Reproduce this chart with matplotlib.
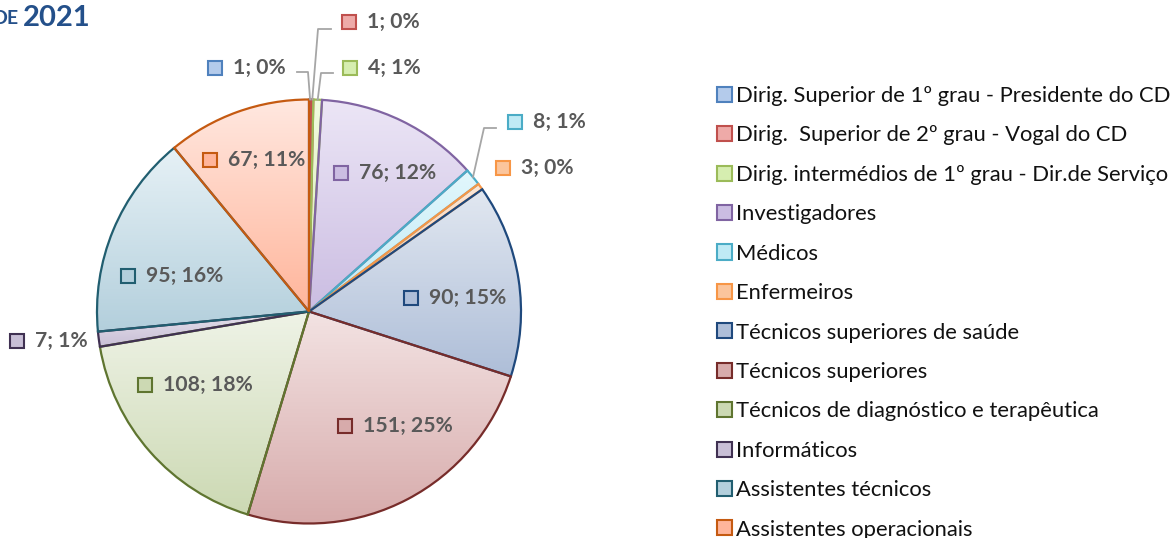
import numpy as np
import matplotlib.pyplot as plt
from matplotlib.colors import LinearSegmentedColormap
from matplotlib.patches import Patch

plt.rcParams['font.family'] = ['Lato', 'DejaVu Sans']

categories = [
    "Dirig. Superior de 1º grau - Presidente do CD",
    "Dirig.  Superior de 2º grau - Vogal do CD",
    "Dirig. intermédios de 1º grau - Dir.de Serviço",
    "Investigadores",
    "Médicos",
    "Enfermeiros",
    "Técnicos superiores de saúde",
    "Técnicos superiores",
    "Técnicos de diagnóstico e terapêutica",
    "Informáticos",
    "Assistentes técnicos",
    "Assistentes operacionais",
]
values = [1, 1, 4, 76, 8, 3, 90, 151, 108, 7, 95, 67]

edge_colors = ["#4f81bd", "#c0504d", "#9bbb59", "#8064a2", "#4bacc6", "#f79646",
               "#1f497d", "#772c2a", "#5f7530", "#403152", "#215e70", "#c55a11"]
top_colors = ["#dce8f7", "#f8d8d8", "#f2fbe0", "#ece6f6", "#e2f7fc", "#fde8d8",
              "#e2e8f1", "#f3e3e3", "#eff3e7", "#e6e1ec", "#e6f1f6", "#ffe8e0"]
bottom_colors = ["#b4cbeb", "#eeaaa8", "#d6eeb0", "#cbbde2", "#bfeaf5", "#fbc59c",
                 "#aebed8", "#d7abab", "#ccd9b3", "#c8bfd6", "#b3cfdc", "#ffb59b"]

W, H = 1175, 538
fig = plt.figure(figsize=(W / 100, H / 100), dpi=100)
ax = fig.add_axes([0, 0, 1, 1])

# pie geometry in pixel units (y measured from bottom)
cx, cy, r = 309, H - 311.5, 212

wedges, _ = ax.pie(values, startangle=90, counterclock=False, center=(cx, cy),
                   radius=r, colors=['none'] * len(values),
                   wedgeprops=dict(linewidth=1.6))

grad = np.linspace(0, 1, 256).reshape(-1, 1)
for w, ec, c0, c1 in zip(wedges, edge_colors, top_colors, bottom_colors):
    w.set_edgecolor(ec)
    w.set_zorder(3)
    x0, y0, x1, y1 = w.get_path().get_extents().extents
    cmap = LinearSegmentedColormap.from_list('g', [c0, c1])
    im = ax.imshow(grad, cmap=cmap, extent=(x0, x1, y0, y1), origin='upper',
                   aspect='auto', zorder=2, interpolation='bilinear')
    im.set_clip_path(w)

# data labels: marker centre position (pixels from top-left)
label_pos = [(215, 68), (349, 22), (350, 68), (341, 173), (515, 122), (503, 168),
             (411, 298), (345, 426), (145, 385), (17, 341), (128, 276), (210, 160)]
total = sum(values)
for v, (mx, my), ec, c0, c1 in zip(values, label_pos, edge_colors, top_colors, bottom_colors):
    ax.plot(mx, H - my, marker='s', markersize=10, markerfacecolor=c1,
            markeredgecolor=ec, markeredgewidth=1.5, zorder=5)
    ax.text(mx + 18, H - my, f"{v}; {round(v / total * 100)}%", fontsize=15.2,
            fontweight='bold', color='#595959', ha='left', va='center', zorder=5)

# leader lines: slice index, start x, start y, elbow x
leaders = [(0, 297, 72, 308), (1, 331, 29, 318), (2, 333, 73, 321), (4, 496, 128, 484)]
for i, sx, sy, ex in leaders:
    w = wedges[i]
    a = np.deg2rad((w.theta1 + w.theta2) / 2)
    px, py = cx + r * np.cos(a), cy + r * np.sin(a)
    ax.plot([sx, ex, px], [H - sy, H - sy, py], color='#a6a6a6', lw=1.3, zorder=4)

handles = [Patch(facecolor=c1, edgecolor=ec, linewidth=1.5)
           for ec, c1 in zip(edge_colors, bottom_colors)]
ax.legend(handles, categories, loc='upper left', bbox_to_anchor=(717 / W, 1 - 86 / H),
          frameon=False, fontsize=15.8, handlelength=0.68, handleheight=0.68,
          handletextpad=0.2, labelspacing=0.885, borderpad=0, borderaxespad=0,
          labelcolor='#111111')

fig.text(-8 / W, 1 - 18 / H, "DE", fontsize=14, fontweight='bold', color='#24508a',
         ha='left', va='center')
fig.text(23 / W, 1 - 18 / H, "2021", fontsize=21, fontweight='bold', color='#24508a',
         ha='left', va='center')

ax.axis('off')
ax.set_xlim(0, W)
ax.set_ylim(0, H)
fig.savefig('out.png', dpi=100)
